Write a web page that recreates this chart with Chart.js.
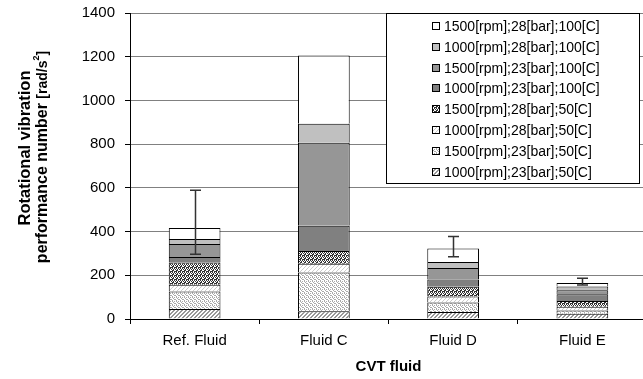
<!DOCTYPE html>
<html>
<head>
<meta charset="utf-8">
<script src="https://cdn.jsdelivr.net/npm/chart.js@4.4.1/dist/chart.umd.min.js"></script>
<style>
html, body { margin: 0; padding: 0; background: #fff; overflow: hidden; }
#wrap { position: relative; width: 660px; height: 379px; }
</style>
</head>
<body>
<div id="wrap"><canvas id="chart" width="660" height="379"></canvas></div>
<script>
var fluids = ["Ref. Fluid", "Fluid C", "Fluid D", "Fluid E"];
var seriesLabels = [
    "1000[rpm];23[bar];50[C]",
    "1500[rpm];23[bar];50[C]",
    "1000[rpm];28[bar];50[C]",
    "1500[rpm];28[bar];50[C]",
    "1000[rpm];23[bar];100[C]",
    "1500[rpm];23[bar];100[C]",
    "1000[rpm];28[bar];100[C]",
    "1500[rpm];28[bar];100[C]"
];
// segment heights, bottom to top
var s1000_23_50 = [46, 35, 32, 24];
var s1500_23_50 = [80, 178, 43, 15];
var s1000_28_50 = [31, 40, 28, 17];
var s1500_28_50 = [102, 58, 45, 26];
var s1000_23_100 = [25, 116, 33, 31];
var s1500_23_100 = [59, 379, 52, 18];
var s1000_28_100 = [23, 87, 28, 18];
var s1500_28_100 = [50, 312, 61, 16];
var errLow = [296, null, 285, 155];
var errHigh = [589, null, 377, 187];
var yTicks = [0, 200, 400, 600, 800, 1000, 1200, 1400];

var seriesValues = [s1000_23_50, s1500_23_50, s1000_28_50, s1500_28_50,
    s1000_23_100, s1500_23_100, s1000_28_100, s1500_28_100];

var FONT = "'Liberation Sans', Arial, sans-serif";

function tile(size, bg, fg, pixels) {
    var c = document.createElement("canvas");
    c.width = size; c.height = size;
    var g = c.getContext("2d");
    g.fillStyle = bg;
    g.fillRect(0, 0, size, size);
    g.fillStyle = fg;
    pixels.forEach(function (p) { g.fillRect(p[0], p[1], 1, 1); });
    return document.getElementById("chart").getContext("2d").createPattern(c, "repeat");
}

var fills = [
    tile(4, "#fff", "#999", [[0, 3], [1, 2], [2, 1], [3, 0], [1, 3], [2, 2], [3, 1], [0, 0]]),
    tile(4, "#fff", "#aaa", [[0, 0], [2, 1], [1, 2], [3, 3], [2, 3], [0, 1]]),
    tile(4, "#fff", "#ccc", [[0, 3], [1, 2], [2, 1], [3, 0]]),
    tile(4, "#fff", "#333", [[0, 0], [2, 0], [1, 1], [3, 1], [0, 2], [1, 2], [3, 3], [2, 3], [0, 3]]),
    "#808080",
    "#969696",
    "#c0c0c0",
    "#ffffff"
];

var datasets = [];
for (var i = 0; i < seriesLabels.length; i++) {
    datasets.push({
        label: seriesLabels[i],
        data: seriesValues[i],
        backgroundColor: fills[i],
        borderColor: "#000",
        borderWidth: 1,
        barPercentage: 0.4,
        categoryPercentage: 1
    });
}

var extrasPlugin = {
    id: "extras",
    afterDatasetsDraw: function (chart) {
        var ctx = chart.ctx;
        var y = chart.scales.y;
        var meta = chart.getDatasetMeta(datasets.length - 1);
        ctx.save();
        ctx.strokeStyle = "#333";
        ctx.lineWidth = 1.5;
        for (var i = 0; i < fluids.length; i++) {
            if (errLow[i] === null) continue;
            var x = Math.round(meta.data[i].x) + 0.5;
            var y1 = y.getPixelForValue(errLow[i]);
            var y2 = y.getPixelForValue(errHigh[i]);
            ctx.beginPath();
            ctx.moveTo(x, y1); ctx.lineTo(x, y2);
            ctx.moveTo(x - 5.5, y1); ctx.lineTo(x + 5.5, y1);
            ctx.moveTo(x - 5.5, y2); ctx.lineTo(x + 5.5, y2);
            ctx.stroke();
        }
        ctx.restore();
    },
    afterDraw: function (chart) {
        var ctx = chart.ctx;
        var area = chart.chartArea;
        ctx.save();
        // legend box
        var lx = 386.5, ly = Math.round(area.top) + 0.5, lw = 253, lh = 170;
        ctx.fillStyle = "#fff";
        ctx.fillRect(lx, ly, lw, lh);
        ctx.strokeStyle = "#000";
        ctx.lineWidth = 1;
        ctx.strokeRect(lx, ly, lw, lh);
        ctx.font = "14px " + FONT;
        ctx.textBaseline = "middle";
        ctx.textAlign = "left";
        for (var k = 0; k < datasets.length; k++) {
            var ds = datasets[datasets.length - 1 - k];
            var cy = Math.round(area.top + 13 + k * 20.8);
            ctx.fillStyle = ds.backgroundColor;
            ctx.fillRect(432, cy - 4, 7, 7);
            ctx.strokeStyle = "#000";
            ctx.strokeRect(432.5, cy - 3.5, 7, 7);
            ctx.fillStyle = "#000";
            ctx.fillText(ds.label, 444, cy + 1);
        }
        // axis titles
        ctx.font = "bold 15px " + FONT;
        ctx.textAlign = "center";
        ctx.fillText("CVT fluid", (area.left + area.right) / 2, 367);
        ctx.save();
        ctx.translate(25, 148);
        ctx.rotate(-Math.PI / 2);
        ctx.font = "bold 16.5px " + FONT;
        ctx.fillText("Rotational vibration", 0, 0);
        ctx.restore();
        ctx.save();
        ctx.translate(43, 157);
        ctx.rotate(-Math.PI / 2);
        var a = "performance number ", b = "[rad/s", c = "2", d = "]";
        ctx.font = "bold 16px " + FONT;
        var wa = ctx.measureText(a).width;
        ctx.font = "bold 14px " + FONT;
        var wb = ctx.measureText(b).width, wd = ctx.measureText(d).width;
        ctx.font = "bold 9px " + FONT;
        var wc = ctx.measureText(c).width;
        var sx = -(wa + wb + wc + wd) / 2;
        ctx.textAlign = "left";
        ctx.font = "bold 16px " + FONT;
        ctx.fillText(a, sx, 0);
        ctx.font = "bold 14px " + FONT;
        ctx.fillText(b, sx + wa, 0);
        ctx.font = "bold 9px " + FONT;
        ctx.fillText(c, sx + wa + wb, -6);
        ctx.font = "bold 14px " + FONT;
        ctx.fillText(d, sx + wa + wb + wc, 0);
        ctx.restore();
        ctx.restore();
    }
};

new Chart(document.getElementById("chart").getContext("2d"), {
    type: "bar",
    data: { labels: fluids, datasets: datasets },
    options: {
        responsive: false,
        animation: false,
        layout: { padding: { top: 13, right: 13, left: 0, bottom: 0 } },
        plugins: { legend: { display: false }, tooltip: { enabled: false } },
        scales: {
            x: {
                stacked: true,
                afterFit: function (s) { s.height = 60; s.paddingLeft = 0; s.paddingRight = 0; },
                grid: { drawOnChartArea: false, tickLength: 5, color: "#000" },
                border: { color: "#000", width: 1 },
                ticks: { color: "#000", padding: 8, font: { size: 15, family: FONT } }
            },
            y: {
                stacked: true,
                min: 0,
                max: 1400,
                afterFit: function (s) { s.width = 130; s.paddingTop = 0; s.paddingBottom = 0; },
                afterBuildTicks: function (s) { s.ticks = yTicks.map(function (v) { return { value: v }; }); },
                grid: { color: "#808080", tickColor: "#000", tickLength: 5 },
                border: { color: "#000", width: 1 },
                ticks: {
                    color: "#000", padding: 10, font: { size: 15, family: FONT },
                    callback: function (v) { return String(v); }
                }
            }
        }
    },
    plugins: [extrasPlugin]
});
</script>
</body>
</html>
